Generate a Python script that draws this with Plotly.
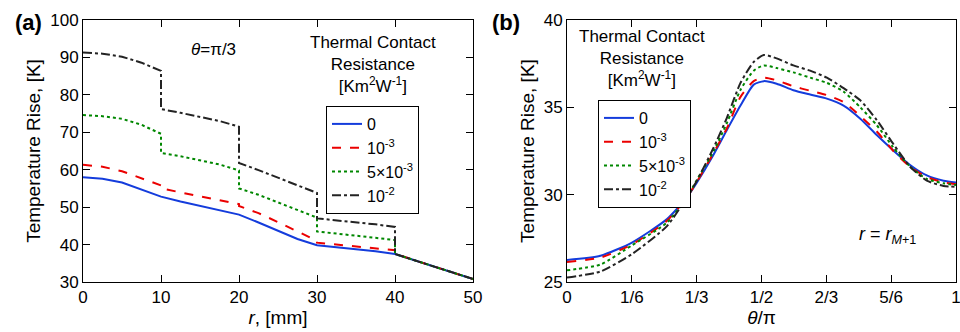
import plotly.graph_objects as go

# ---------------- Panel (a) data: temperature rise vs r at theta = pi/3 ----------------
r_a = [0, 2.5, 5, 7.5, 10, 10, 12.5, 15, 17.5, 20, 20, 22.5, 25, 27.5, 30, 30,
       32.5, 35, 37.5, 40, 40, 42.5, 45, 47.5, 50]
a_R0 = [58.0, 57.6, 56.6, 54.8, 52.8, 52.8, 51.5, 50.4, 49.3, 48.0, 48.0, 45.9, 43.6,
        41.5, 39.8, 39.8, 39.3, 38.8, 38.2, 37.5, 37.5, 35.8, 34.1, 32.4, 30.8]
a_R1 = [61.3, 60.8, 59.6, 57.6, 55.8, 55.0, 54.0, 53.0, 52.0, 50.8, 50.3, 48.4, 46.0,
        43.5, 41.0, 40.5, 40.0, 39.5, 39.0, 38.5, 37.5, 35.8, 34.1, 32.4, 30.8]
a_R5 = [74.6, 74.3, 73.6, 72.0, 69.6, 64.5, 63.6, 62.6, 61.4, 59.8, 55.0, 53.3, 51.2,
        49.2, 47.2, 43.5, 43.0, 42.4, 41.8, 41.2, 37.5, 35.8, 34.1, 32.4, 30.8]
a_R10 = [91.3, 91.0, 90.2, 88.6, 86.4, 76.2, 75.2, 74.2, 73.0, 71.5, 61.8, 59.9, 57.8,
         55.8, 53.8, 47.0, 46.5, 46.0, 45.4, 44.7, 37.5, 35.8, 34.1, 32.4, 30.8]

# ---------------- Panel (b) data: temperature rise vs theta/pi at r = r_{M+1} ----------------
t_b = [0, 0.086, 0.167, 0.257, 0.308, 0.334, 0.377, 0.411, 0.446, 0.48, 0.506, 0.539,
       0.582, 0.625, 0.668, 0.711, 0.754, 0.797, 0.839, 0.882, 0.925, 0.968, 1.0]
b_R0 = [26.26, 26.5, 27.26, 28.6, 29.84, 30.7, 32.3, 33.7, 35.1, 36.3, 36.5, 36.35,
        35.98, 35.73, 35.5, 35.1, 34.35, 33.4, 32.53, 31.7, 31.1, 30.8, 30.7]
b_R1 = [26.15, 26.4, 27.15, 28.5, 29.84, 30.75, 32.4, 33.8, 35.6, 36.5, 36.7, 36.55,
        36.2, 35.95, 35.7, 35.3, 34.5, 33.6, 32.5, 31.6, 31.0, 30.7, 30.6]
b_R5 = [25.67, 26.0, 27.1, 28.4, 29.84, 30.85, 32.5, 34.1, 36.0, 37.1, 37.4, 37.25,
        37.0, 36.7, 36.4, 35.9, 35.0, 33.96, 32.7, 31.6, 30.9, 30.65, 30.55]
b_R10 = [25.25, 25.6, 26.6, 28.2, 29.84, 30.8, 32.7, 34.4, 36.4, 37.6, 38.0, 37.8,
         37.4, 37.1, 36.7, 36.1, 35.4, 34.25, 32.9, 31.6, 30.8, 30.5, 30.45]

names = ["0", "10<sup>-3</sup>", "5×10<sup>-3</sup>", "10<sup>-2</sup>"]
colors = ["rgb(20,60,220)", "rgb(235,0,0)", "rgb(0,135,0)", "rgb(35,35,35)"]
dashes = ["solid", "dash", "dot", "dashdot"]

x_ticks_a = [0, 10, 20, 30, 40, 50]
y_ticks_a = [30, 40, 50, 60, 70, 80, 90, 100]
x_ticks_b = [0, 1/6, 1/3, 1/2, 2/3, 5/6, 1]
x_tick_text_b = ["0", "1/6", "1/3", "1/2", "2/3", "5/6", "1"]
y_ticks_b = [25, 30, 35, 40]

FONT = "Liberation Sans, Arial, sans-serif"

fig = go.Figure()
for nm, col, ds, ya in zip(names, colors, dashes, [a_R0, a_R1, a_R5, a_R10]):
    fig.add_trace(go.Scatter(x=r_a, y=ya, mode="lines", name=nm,
                             line=dict(color=col, width=2, dash=ds),
                             xaxis="x", yaxis="y", legend="legend"))
for nm, col, ds, yb in zip(names, colors, dashes, [b_R0, b_R1, b_R5, b_R10]):
    fig.add_trace(go.Scatter(x=t_b, y=yb, mode="lines", name=nm,
                             line=dict(color=col, width=2, dash=ds, shape="spline", smoothing=0.6),
                             xaxis="x2", yaxis="y2", legend="legend2"))

ydom = [50/332, 312/332]
axis_common = dict(showline=True, linecolor="black", linewidth=1, mirror="ticks",
                   ticks="inside", ticklen=7, tickcolor="black", showgrid=False,
                   zeroline=False, automargin=False, ticklabeloverflow="allow",
                   tickfont=dict(size=17, color="black", family=FONT))

fig.update_layout(
    width=960, height=332,
    margin=dict(l=0, r=0, t=0, b=0, autoexpand=False),
    paper_bgcolor="white", plot_bgcolor="white",
    font=dict(family=FONT, color="black", size=17),
    xaxis=dict(domain=[83/960, 473/960], range=[0, 50], tickvals=x_ticks_a,
               title=dict(text="<i>r</i>, [mm]", font=dict(size=19), standoff=0), anchor="y",
               **axis_common),
    yaxis=dict(domain=ydom, range=[30, 100], tickvals=y_ticks_a,
               title=dict(text="Temperature Rise, [K]", font=dict(size=19), standoff=4), anchor="x",
               **axis_common),
    xaxis2=dict(domain=[567/960, 956/960], range=[0, 1], tickvals=x_ticks_b, ticktext=x_tick_text_b,
                title=dict(text="<i>θ</i>/π", font=dict(size=19), standoff=0), anchor="y2",
                **axis_common),
    yaxis2=dict(domain=ydom, range=[25, 40], tickvals=y_ticks_b,
                title=dict(text="Temperature Rise, [K]", font=dict(size=19), standoff=4), anchor="x2",
                **axis_common),
    legend=dict(x=326/960, y=1-106/332, xanchor="left", yanchor="top",
                bgcolor="white", bordercolor="black", borderwidth=1,
                font=dict(size=16, family=FONT), tracegroupgap=0, itemwidth=30,
                itemclick=False),
    legend2=dict(x=598/960, y=1-100/332, xanchor="left", yanchor="top",
                 bgcolor="white", bordercolor="black", borderwidth=1,
                 font=dict(size=16, family=FONT), tracegroupgap=0, itemwidth=30,
                 itemclick=False),
    showlegend=True,
)

legend_title = "Thermal Contact<br>Resistance<br>[Km<sup>2</sup>W<sup>-1</sup>]"
fig.add_annotation(x=373/960, y=1-31/332, xref="paper", yref="paper", xanchor="center", yanchor="top",
                   text=legend_title, showarrow=False, font=dict(size=17), align="center")
fig.add_annotation(x=642/960, y=1-25/332, xref="paper", yref="paper", xanchor="center", yanchor="top",
                   text=legend_title, showarrow=False, font=dict(size=17), align="center")
fig.add_annotation(x=213/960, y=1-49/332, xref="paper", yref="paper", xanchor="center", yanchor="middle",
                   text="<i>θ</i>=π/3", showarrow=False, font=dict(size=17))
fig.add_annotation(x=887/960, y=1-235/332, xref="paper", yref="paper", xanchor="center", yanchor="middle",
                   text="<i>r</i> = <i>r</i><sub><i>M</i>+1</sub>", showarrow=False, font=dict(size=18))
fig.add_annotation(x=28/960, y=1-22/332, xref="paper", yref="paper", xanchor="center", yanchor="middle",
                   text="<b>(a)</b>", showarrow=False, font=dict(size=22))
fig.add_annotation(x=506/960, y=1-22/332, xref="paper", yref="paper", xanchor="center", yanchor="middle",
                   text="<b>(b)</b>", showarrow=False, font=dict(size=22))

fig.write_html("out.html")
